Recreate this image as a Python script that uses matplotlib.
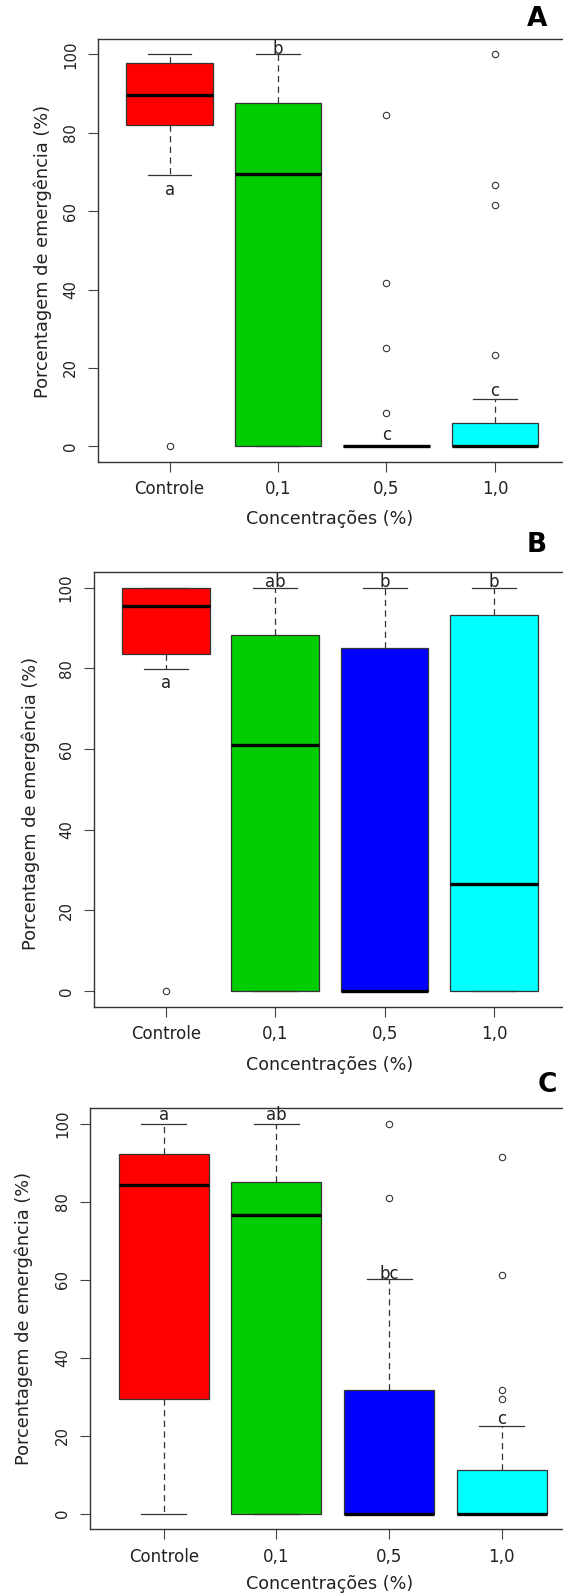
import matplotlib
matplotlib.use("Agg")
import matplotlib.pyplot as plt

# ── Data ────────────────────────────────────────────────────────────────
groups = ["Controle", "0,1", "0,5", "1,0"]
box_colors = ["#FF0000", "#00CD00", "#0000FF", "#00FFFF"]

# Panel A
a_q1 = [82.1, 0.0, 0.0, 0.0]
a_med = [89.6, 69.5, 0.0, 0.0]
a_q3 = [97.8, 87.7, 0.0, 6.0]
a_lo = [69.3, 0.0, 0.0, 0.0]
a_hi = [100.0, 100.0, 0.0, 12.1]
a_fliers = [[0.0], [], [84.5, 41.7, 25.0, 8.4], [100.0, 66.7, 61.5, 23.3]]
a_letters = ["a", "b", "c", "c"]
a_letter_y = [64.1, 100.2, 1.5, 12.8]

# Panel B
b_q1 = [83.6, 0.0, 0.0, 0.0]
b_med = [95.4, 60.9, 0.0, 26.5]
b_q3 = [100.0, 88.2, 85.1, 93.3]
b_lo = [79.9, 0.0, 0.0, 0.0]
b_hi = [100.0, 100.0, 100.0, 100.0]
b_fliers = [[0.0], [], [], []]
b_letters = ["a", "ab", "b", "b"]
b_letter_y = [75.2, 100.2, 100.2, 100.2]

# Panel C
c_q1 = [29.5, 0.0, 0.0, 0.0]
c_med = [84.2, 76.7, 0.0, 0.0]
c_q3 = [92.4, 85.0, 31.8, 11.2]
c_lo = [0.0, 0.0, 0.0, 0.0]
c_hi = [100.0, 100.0, 60.1, 22.4]
c_fliers = [[], [], [100.0, 80.9], [91.6, 61.3, 31.8, 29.5]]
c_letters = ["a", "ab", "bc", "c"]
c_letter_y = [100.9, 100.9, 60.3, 23.0]

# ── Layout in pixels (figure is 563 x 1595) ─────────────────────────────
W, H = 563, 1595
TEXT = "#222222"
LINE = "#333333"

panels = [
    # name, left, right, top, bottom, title xy, ylabel xy, xlabel xy, data
    ("A", 98.0, 566.5, 38.7, 462.0, (537, 19), (43, 251), (330, 519),
     (a_q1, a_med, a_q3, a_lo, a_hi, a_fliers, a_letters, a_letter_y)),
    ("B", 93.5, 566.4, 571.7, 1007.0, (537, 545), (30.5, 803.5), (329.5, 1064.6),
     (b_q1, b_med, b_q3, b_lo, b_hi, b_fliers, b_letters, b_letter_y)),
    ("C", 89.7, 575.8, 1108.3, 1529.3, (547, 1085), (23.3, 1318.6), (330, 1584),
     (c_q1, c_med, c_q3, c_lo, c_hi, c_fliers, c_letters, c_letter_y)),
]

plt.rcParams["font.family"] = "DejaVu Sans"

fig = plt.figure(figsize=(W / 100, H / 100), dpi=100)

for name, left, right, top, bottom, title_xy, ylab_xy, xlab_xy, data in panels:
    q1, med, q3, lo, hi, fliers, letters, letter_y = data
    ax = fig.add_axes([left / W, 1 - bottom / H, (right - left) / W, (bottom - top) / H])

    stats = [
        dict(q1=q1[i], med=med[i], q3=q3[i], whislo=lo[i], whishi=hi[i], fliers=fliers[i])
        for i in range(len(groups))
    ]
    bp = ax.bxp(
        stats,
        positions=[1, 2, 3, 4],
        widths=0.8,
        capwidths=0.4,
        patch_artist=True,
        manage_ticks=False,
        boxprops=dict(edgecolor=LINE, linewidth=0.9),
        medianprops=dict(color="black", linewidth=2.4, solid_capstyle="butt"),
        whiskerprops=dict(color=LINE, linewidth=0.9, linestyle=(0, (5, 3.5))),
        capprops=dict(color=LINE, linewidth=0.9),
        flierprops=dict(marker="o", markerfacecolor="none", markeredgecolor=LINE,
                        markersize=4.6, markeredgewidth=0.8),
    )
    for patch, col in zip(bp["boxes"], box_colors):
        patch.set_facecolor(col)

    # significance letters
    for i, (lab, yv) in enumerate(zip(letters, letter_y)):
        ax.text(i + 1, yv, lab, ha="center", va="baseline", fontsize=12,
                color=TEXT, clip_on=False)

    ax.set_xlim(0.34, 4.66)
    ax.set_ylim(-4, 104)
    ax.set_xticks([1, 2, 3, 4])
    ax.set_xticklabels(groups)
    ax.set_yticks([0, 20, 40, 60, 80, 100])

    for sp in ax.spines.values():
        sp.set_color(LINE)
        sp.set_linewidth(1.0)
    ax.tick_params(axis="both", direction="out", length=7.2, width=0.8,
                   color="#444444", labelcolor=TEXT)
    ax.tick_params(axis="x", labelsize=12, pad=6)
    ax.tick_params(axis="y", labelsize=10.7, pad=7, labelrotation=90)
    for t in ax.get_yticklabels():
        t.set_va("center")

    ax.set_xlabel("Concentrações (%)", fontsize=12.6, color=TEXT)
    ax.set_ylabel("Porcentagem de emergência (%)", fontsize=12.8, color=TEXT)
    wpx, hpx = right - left, bottom - top
    ax.xaxis.set_label_coords((xlab_xy[0] - left) / wpx, (bottom - xlab_xy[1]) / hpx)
    ax.xaxis.label.set_va("center")
    ax.yaxis.set_label_coords((ylab_xy[0] - left) / wpx, (bottom - ylab_xy[1]) / hpx)
    ax.yaxis.label.set_va("center")

    fig.text(title_xy[0] / W, 1 - title_xy[1] / H, name, ha="center", va="center",
             fontsize=19, fontweight="bold", color="black")

fig.savefig("out.png", dpi=100)
